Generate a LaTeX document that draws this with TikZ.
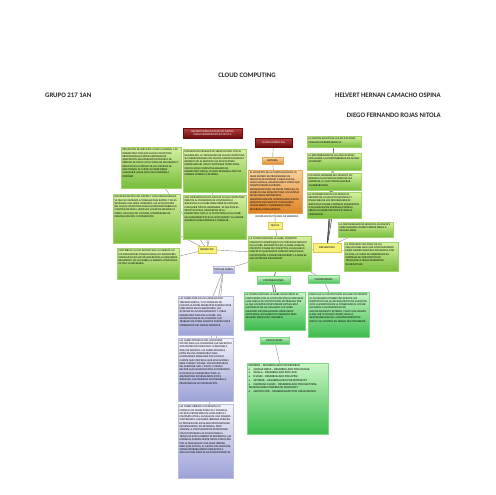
\documentclass[tikz,border=0pt]{standalone}
\usepackage{fontspec}
\setmainfont{Carlito}
\usepackage{xcolor}
\usepackage{tikz}
\usetikzlibrary{shadows, shapes, arrows, positioning}

\pgfdeclarelayer{fondo}
\pgfsetlayers{fondo,main}

\definecolor{verdeA}{HTML}{D6F0A0}
\definecolor{verdeB}{HTML}{78BE3C}
\definecolor{verdeL}{HTML}{9ED46A}
\definecolor{verde2A}{HTML}{C9F5C4}
\definecolor{verde2B}{HTML}{3DBB4E}
\definecolor{verde2L}{HTML}{7FD884}
\definecolor{lilaA}{HTML}{F2F2FB}
\definecolor{lilaB}{HTML}{9DA2D6}
\definecolor{lilaL}{HTML}{B8BCE0}
\definecolor{naranjaA}{HTML}{F9D39C}
\definecolor{naranjaB}{HTML}{DE8428}
\definecolor{naranjaL}{HTML}{E8A65A}
\definecolor{rojoA}{HTML}{B84040}
\definecolor{rojoB}{HTML}{6A0C0C}
\definecolor{amarillo}{HTML}{F8F27C}
\definecolor{amarilloL}{HTML}{D9CC55}
\definecolor{linea}{HTML}{8C8C8C}
\definecolor{lineaosc}{HTML}{3A3A3A}

\newcommand{\tinytxt}{\fontsize{2.7}{3.3}\selectfont}
\newcommand{\etiq}{\fontsize{2.8}{3.2}\selectfont}
\newcommand{\caja}[3]{\parbox[c][#2][t]{#1}{\raggedright\tinytxt #3}}

\begin{document}
\begin{tikzpicture}[x=1pt,y=-1pt]
  \useasboundingbox (0,0) rectangle (495,495);
  % titulos
  \begin{scope}[every node/.style={font=\fontsize{6.8}{8}\selectfont\bfseries,text=black!85,inner sep=0pt}]
    \node (titulo) at (247,75) {CLOUD COMPUTING};
    \node[anchor=west] (grupo) at (45,95) {GRUPO 217 1AN};
    \node[anchor=east] (autor1) at (441,95) {HELVERT HERNAN CAMACHO OSPINA};
    \node[anchor=east] (autor2) at (441,115) {DIEGO FERNANDO ROJAS NITOLA};
  \end{scope}
  % rojos
  \begin{scope}[every node/.style={draw=rojoB,top color=rojoA,bottom color=rojoB,text=white,inner sep=0.8pt,align=center,font=\etiq,drop shadow={shadow xshift=0.5pt,shadow yshift=-0.5pt,opacity=0.3}}]
    \node[minimum width=59pt,minimum height=10pt] (autores) at (212.5,133) {HELVERT HERNAN CAMACHO OSPINA\\DIEGO FERNANDO ROJAS NITOLA};
    \node[minimum width=37pt,minimum height=9pt] (cloud) at (273.5,142.5) {CLOUD COMPUTING};
  \end{scope}
  % naranjas
  \begin{scope}[every node/.style={draw=naranjaL,top color=naranjaA,bottom color=naranjaB,inner sep=1.5pt,font=\etiq,drop shadow={shadow xshift=0.5pt,shadow yshift=-0.5pt,opacity=0.3}}]
    \node[minimum width=21pt,minimum height=7pt,inner sep=0.5pt] (historia) at (272.5,161) {HISTORIA};
    \node (historiatxt) at (275.5,191.5) {\caja{51pt}{40pt}{EL CONCEPTO DE LA COMPUTACIÓN EN LA NUBE EMPEZÓ EN PROVEEDORES DE SERVICIOS DE INTERNET A GRAN ESCALA, COMO GOOGLE, AMAZON AWS Y OTROS QUE CONSTRUYERON SU PROPIA INFRAESTRUCTURA. DE ENTRE TODOS ELLOS EMERGIÓ UNA ARQUITECTURA: UN SISTEMA DE RECURSOS DISTRIBUIDOS HORIZONTALMENTE, INTRODUCIDOS COMO SERVICIOS VIRTUALES DE TI ESCALADOS MASIVAMENTE Y MANEJADOS COMO RECURSOS CONFIGURADOS.}};
  \end{scope}
  \node[fill=white,inner sep=0.3pt,font=\tinytxt] (fuente) at (277,216) {INFORMACIÓN TOMADA DE WIKIPEDIA};
  % etiquetas amarillas
  \begin{scope}[every node/.style={draw=amarilloL,fill=amarillo,inner sep=0.5pt,font=\etiq,drop shadow={shadow xshift=0.4pt,shadow yshift=-0.4pt,opacity=0.3}}]
    \node[minimum width=14pt,minimum height=7pt] (quees) at (275,225.5) {QUÉ ES};
    \node[minimum width=18pt,minimum height=7pt] (beneficios) at (207,249.5) {BENEFICIOS};
    \node[minimum width=28pt,minimum height=9pt] (desventajas) at (327,247.5) {DESVENTAJAS};
  \end{scope}
  % cajas verdes
  \begin{scope}[every node/.style={draw=verdeL,top color=verdeA,bottom color=verdeB,inner sep=1.5pt,drop shadow={shadow xshift=0.5pt,shadow yshift=-0.5pt,opacity=0.3}}]
    \node (nube) at (279.5,253.5) {\caja{60pt}{32pt}{LA COMPUTACIÓN EN LA NUBE, CONCEPTO CONOCIDO TAMBIÉN BAJO LOS TÉRMINOS SERVICIO EN LA NUBE, INFORMÁTICA EN LA NUBE, NUBE DE CÓMPUTO O NUBE DE CONCEPTOS, ES UN NUEVO CONCEPTO QUE PERMITE OFRECER SERVICIOS DE COMPUTACIÓN A TRAVÉS DE INTERNET. LA NUBE ES UNA METÁFORA DE INTERNET.}};
    \node (ben1) at (151,167.5) {\caja{57pt}{38pt}{PRESTACIÓN DE SERVICIOS A NIVEL MUNDIAL. LAS INFRAESTRUCTURAS DE CLOUD COMPUTING PROPORCIONAN MAYOR CAPACIDAD DE ADAPTACIÓN, RECUPERACIÓN COMPLETA DE PÉRDIDA DE DATOS (CON COPIAS DE SEGURIDAD) Y REDUCCIÓN AL MÍNIMO DE LOS TIEMPOS DE INACTIVIDAD. SE PUEDE ACCEDER DESDE CUALQUIER LUGAR CON UNA CONEXIÓN A INTERNET.}};
    \node (ben2) at (214.5,170.5) {\caja{60pt}{40pt}{INTEGRACIÓN PROBADA DE SERVICIOS RED. POR SU NATURALEZA, LA TECNOLOGÍA DE CLOUD COMPUTING SE PUEDE INTEGRAR CON MUCHA MAYOR FACILIDAD Y RAPIDEZ CON EL RESTO DE LAS APLICACIONES EMPRESARIALES (TANTO SOFTWARE TRADICIONAL COMO CLOUD COMPUTING BASADO EN INFRAESTRUCTURAS), YA SEAN DESARROLLADAS DE MANERA INTERNA O EXTERNA.}};
    \node (ben3) at (146.5,218.5) {\caja{64pt}{46pt}{IMPLEMENTACIÓN MÁS RÁPIDA Y CON MENOS RIESGOS, YA QUE SE COMIENZA A TRABAJAR MÁS RÁPIDO Y NO ES NECESARIA UNA GRAN INVERSIÓN. LAS APLICACIONES DEL CLOUD COMPUTING SUELEN ESTAR DISPONIBLES EN CUESTIÓN DE DÍAS U HORAS EN LUGAR DE SEMANAS O MESES, INCLUSO CON UN NIVEL CONSIDERABLE DE PERSONALIZACIÓN O INTEGRACIÓN.}};
    \node (ben4) at (214.5,217) {\caja{60pt}{41pt}{UNA INFRAESTRUCTURA 100\% DE CLOUD COMPUTING PERMITE AL PROVEEDOR DE CONTENIDOS O SERVICIOS EN LA NUBE PRESCINDIR DE INSTALAR CUALQUIER TIPO DE HARDWARE, YA QUE ÉSTE ES PROVISTO POR EL PROVEEDOR DE LA INFRAESTRUCTURA O LA PLATAFORMA EN LA NUBE. UN GRAN BENEFICIO ES LA SIMPLICIDAD Y LA MENOR INVERSIÓN PARA EMPEZAR A TRABAJAR.}};
    \node (ben5) at (148,263.5) {\caja{59pt}{28pt}{CONTRIBUYE AL USO EFICIENTE DE LA ENERGÍA. EN LOS DATACENTERS TRADICIONALES LOS SERVIDORES CONSUMEN MUCHA MÁS ENERGÍA DE LA REQUERIDA REALMENTE; EN LAS NUBES LA ENERGÍA CONSUMIDA ES SÓLO LA NECESARIA.}};
    \node (des1) at (334,141.5) {\caja{51pt}{8pt}{LA CENTRALIZACIÓN DE LAS APLICACIONES ORIGINA INTERDEPENDENCIA.}};
    \node (des2) at (334,161.5) {\caja{51pt}{14pt}{LA DISPONIBILIDAD DE LAS APLICACIONES ESTÁ LIGADA A LA DISPONIBILIDAD DE ACCESO A INTERNET.}};
    \node (des3) at (334,181.5) {\caja{51pt}{14pt}{LOS DATOS SENSIBLES DEL NEGOCIO NO RESIDEN EN LAS INSTALACIONES DE LAS EMPRESAS, LO QUE PODRÍA GENERAR VULNERABILIDAD.}};
    \node (des4) at (334,205) {\caja{51pt}{23pt}{LA CONFIABILIDAD DE LOS SERVICIOS DEPENDE DE LA SALUD TECNOLÓGICA Y FINANCIERA DE LOS PROVEEDORES DE SERVICIOS EN NUBE. EMPRESAS EMERGENTES O ALIANZAS ENTRE EMPRESAS PODRÍAN CREAR UN AMBIENTE PROPICIO PARA EL MONOPOLIO.}};
    \node (des5) at (365.5,229.5) {\caja{52pt}{12pt}{LA DISPONIBILIDAD DE SERVICIOS ALTAMENTE ESPECIALIZADOS PODRÍA TARDAR MESES O INCLUSO AÑOS.}};
    \node (des6) at (371,256.5) {\caja{51pt}{26pt}{LA MADUREZ FUNCIONAL DE LAS APLICACIONES HACE QUE CONTINUAMENTE ESTÉN MODIFICANDO SUS INTERFACES, POR LO CUAL LA CURVA DE APRENDIZAJE EN EMPRESAS DE ORIENTACIÓN NO TECNOLÓGICA TENGA PENDIENTES SIGNIFICATIVAS.}};
  \end{scope}
  % cajas lila
  \begin{scope}[every node/.style={draw=lilaL,top color=lilaA,bottom color=lilaB,inner sep=1.5pt,drop shadow={shadow xshift=0.5pt,shadow yshift=-0.5pt,opacity=0.3}}]
    \node[minimum width=21pt,minimum height=7pt,inner sep=0.5pt,font=\etiq] (tipos) at (223.5,269.5) {TIPOS DE NUBES};
    \node (publica) at (205.5,315.5) {\caja{52pt}{36pt}{LAS NUBES PÚBLICAS SE MANEJAN POR TERCERAS PARTES, Y LOS TRABAJOS DE MUCHOS CLIENTES DIFERENTES PUEDEN ESTAR MEZCLADOS EN LOS SERVIDORES, LOS SISTEMAS DE ALMACENAMIENTO Y OTRAS INFRAESTRUCTURAS DE LA NUBE. LOS USUARIOS FINALES NO CONOCEN QUÉ TRABAJOS DE OTROS CLIENTES PUEDEN ESTAR CORRIENDO EN EL MISMO SERVIDOR.}};
    \node (privada) at (205.5,369.5) {\caja{52pt}{60pt}{LAS NUBES PRIVADAS SON UNA BUENA OPCIÓN PARA LAS COMPAÑÍAS QUE NECESITAN ALTA PROTECCIÓN DE DATOS Y EDICIONES A NIVEL DE SERVICIO. LAS NUBES PRIVADAS ESTÁN EN UNA INFRAESTRUCTURA EN-DEMANDA MANEJADA POR UN SOLO CLIENTE QUE CONTROLA QUÉ APLICACIONES DEBE CORRER Y DÓNDE. SON PROPIETARIOS DEL SERVIDOR, RED, Y DISCO Y PUEDEN DECIDIR QUÉ USUARIOS ESTÁN AUTORIZADOS A UTILIZAR LA INFRAESTRUCTURA. AL ADMINISTRAR INTERNAMENTE ESTOS SERVICIOS, LAS EMPRESAS MANTIENEN LA PRIVACIDAD DE SU INFORMACIÓN.}};
    \node (hibrida) at (205.5,441) {\caja{52pt}{71pt}{LAS NUBES HÍBRIDAS COMBINAN LOS MODELOS DE NUBES PÚBLICAS Y PRIVADAS. USTED ES PROPIETARIO DE UNAS PARTES Y COMPARTE OTRAS, AUNQUE DE UNA MANERA CONTROLADA. LAS NUBES HÍBRIDAS OFRECEN LA PROMESA DEL ESCALADO APROVISIONADA EXTERNAMENTE, EN-DEMANDA, PERO AÑADEN LA COMPLEJIDAD DE DETERMINAR CÓMO DISTRIBUIR LAS APLICACIONES A TRAVÉS DE ESTOS AMBIENTES DIFERENTES. LAS EMPRESAS PUEDEN SENTIR CIERTA ATRACCIÓN POR LA PROMESA DE UNA NUBE HÍBRIDA, PERO ESTA OPCIÓN, AL MENOS INICIALMENTE, ESTARÁ PROBABLEMENTE RESERVADA A APLICACIONES SIMPLES SIN CONDICIONANTES.}};
  \end{scope}
  % cajas verde claro
  \begin{scope}[every node/.style={draw=verde2L,top color=verde2A,bottom color=verde2B,inner sep=1.5pt,drop shadow={shadow xshift=0.5pt,shadow yshift=-0.5pt,opacity=0.3}}]
    \node[minimum width=33pt,minimum height=8pt,inner sep=0.5pt,font=\etiq] (comparaciones) at (273.5,280.5) {COMPARACIONES};
    \node[minimum width=31pt,minimum height=8pt,inner sep=0.5pt,font=\etiq] (controversia) at (323.5,279.5) {CONTROVERSIA};
    \node[minimum width=29pt,minimum height=7pt,inner sep=0.5pt,font=\etiq] (aplicaciones) at (274.5,340.5) {APLICACIONES};
    \node (comptxt) at (274.5,311) {\caja{58pt}{35pt}{LA COMPUTACIÓN EN LA NUBE USUALMENTE ES CONFUNDIDA CON LA COMPUTACIÓN EN GRID (RED) (UNA FORMA DE COMPUTACIÓN DISTRIBUIDA POR LA QUE UN SÚPER COMPUTADOR VIRTUAL ESTÁ COMPUESTO DE UN CONJUNTO O CLÚSTER ENLAZADO DE ORDENADORES DÉBILMENTE ACOPLADOS, ACTUANDO EN CONCIERTO PARA REALIZAR TAREAS MUY GRANDES).}};
    \node (contxt) at (338.5,314.5) {\caja{58pt}{42pt}{DADO QUE LA COMPUTACIÓN EN NUBE NO PERMITE A LOS USUARIOS POSEER FÍSICAMENTE LOS DISPOSITIVOS DE ALMACENAMIENTO DE SUS DATOS (CON LA EXCEPCIÓN DE LA POSIBILIDAD DE COPIAR LOS DATOS A UN DISPOSITIVO DE ALMACENAMIENTO EXTERNO, COMO UNA UNIDAD FLASH USB O UN DISCO DURO), DEJA LA RESPONSABILIDAD DEL ALMACENAMIENTO DE DATOS Y SU CONTROL EN MANOS DEL PROVEEDOR.}};
    \node (apps) at (287.5,398.5) {\parbox[c][68pt][t]{78pt}{\raggedright\fontsize{2.9}{3.75}\selectfont
      DROPBOX -- DESARROLLADO POR DROPBOX\\
      •\quad\ GOOGLE DRIVE -- DESARROLLADO POR GOOGLE\\
      •\quad\ WUALA -- DESARROLLADO POR LACIE\\
      •\quad\ ICLOUD -- DESARROLLADO POR APPLE\\
      •\quad\ SKYDRIVE -- DESARROLLADO POR MICROSOFT\\
      •\quad\ CAMPAIGN CLOUD -- DESARROLLADO POR ELECTORAL TECHNOLOGIES POWERED BY MICROSOFT\\
      •\quad\ UBUNTU ONE -- DESARROLLADO POR LINUX UBUNTU}};
  \end{scope}
  % conectores
  \begin{pgfonlayer}{fondo}
    \begin{scope}[every edge/.style={draw=linea,line width=0.4pt}]
      \path (cloud) edge (historia);
      \path (historia) edge (historiatxt);
      \path (historiatxt) edge (quees);
      \path (quees) edge (nube);
      \path (nube) edge (beneficios);
      \path (beneficios) edge (ben1);
      \path (beneficios) edge (ben2);
      \path (beneficios) edge (ben3);
      \path (beneficios) edge (ben4);
      \path (beneficios) edge (ben5);
      \path (nube) edge (tipos);
      \path (tipos) edge (publica);
      \path (tipos) edge (privada);
      \path (tipos) edge (hibrida);
      \path (nube) edge (desventajas);
      \path (desventajas) edge (des5);
      \path (desventajas) edge (des6);
      \path (nube) edge (controversia);
      \path (controversia) edge (contxt);
      \path (aplicaciones) edge (apps);
    \end{scope}
    \begin{scope}[every edge/.style={draw=lineaosc,line width=0.5pt}]
      \path (desventajas) edge (des1);
      \path (desventajas) edge (des2);
      \path (desventajas) edge (des3);
      \path (desventajas) edge (des4);
      \path (nube) edge (comparaciones);
      \path ([xshift=-1pt]comparaciones.south) edge ([xshift=-1pt]comptxt.north);
      \path ([xshift=1pt]comparaciones.south) edge ([xshift=1pt]comptxt.north);
    \end{scope}
  \end{pgfonlayer}
\end{tikzpicture}
\end{document}
